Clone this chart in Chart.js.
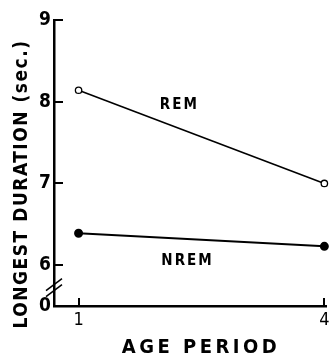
<!DOCTYPE html>
<html lang="en">
<head>
    <meta charset="UTF-8">
    <title>Longest duration by age period</title>
    <style>
        html, body { margin: 0; padding: 0; background: #fff; }
        #wrap { width: 332px; height: 360px; }
    </style>
</head>
<body>
    <div id="wrap">
        <canvas id="durationChart" width="332" height="360"></canvas>
    </div>

    <script src="https://cdn.jsdelivr.net/npm/chart.js"></script>
    <script>
        // Data
        const agePeriods = [1, 4];
        const remValues = [8.14, 7.0];
        const nremValues = [6.39, 6.23];
        const yTickValues = [5.5, 6, 7, 8, 9];      // 5.5 is the broken-axis "0"
        const yTickLabels = ['0', '6', '7', '8', '9'];
        const xTickLabels = ['1', '4'];

        const FONT = "'DejaVu Sans Condensed', 'DejaVu Sans', sans-serif";

        // Series labels sit next to the lines (in data units)
        const seriesLabels = [
            { text: 'REM', x: 2.23, y: 7.96 },
            { text: 'NREM', x: 2.33, y: 6.05 }
        ];

        const toPoints = vals => agePeriods.map((p, i) => ({ x: p, y: vals[i] }));

        // Inward tick marks, axis break, titles and line labels
        const decorations = {
            id: 'decorations',
            afterDraw(chart) {
                const { ctx, chartArea: area, scales: { x, y } } = chart;
                ctx.save();
                ctx.strokeStyle = '#000';
                ctx.lineWidth = 2;

                // y ticks pointing into the plot
                yTickValues.slice(1).forEach(v => {
                    const py = Math.round(y.getPixelForValue(v));
                    ctx.beginPath();
                    ctx.moveTo(area.left - 1, py);
                    ctx.lineTo(area.left + 9, py);
                    ctx.stroke();
                });
                // x ticks pointing up
                agePeriods.forEach(v => {
                    const px = Math.round(x.getPixelForValue(v));
                    ctx.beginPath();
                    ctx.moveTo(px, area.bottom + 1);
                    ctx.lineTo(px, area.bottom - 8);
                    ctx.stroke();
                });

                // break marks on the y axis
                const by = (y.getPixelForValue(6) + area.bottom) / 2 + 2;
                ctx.lineWidth = 1.5;
                [-3, 3].forEach(d => {
                    ctx.beginPath();
                    ctx.moveTo(area.left - 8, by + 6 + d);
                    ctx.lineTo(area.left + 8, by - 6 + d);
                    ctx.stroke();
                });

                ctx.fillStyle = '#000';
                ctx.textAlign = 'center';
                ctx.textBaseline = 'middle';

                // line labels
                ctx.font = 'bold 15px ' + FONT;
                ctx.letterSpacing = '2px';
                seriesLabels.forEach(l => {
                    ctx.fillText(l.text, x.getPixelForValue(l.x), y.getPixelForValue(l.y));
                });

                // x title
                ctx.font = 'bold 20px ' + FONT;
                ctx.letterSpacing = '3.5px';
                ctx.fillText('AGE PERIOD', 201, 348);

                // y title
                ctx.font = 'bold 19px ' + FONT;
                ctx.letterSpacing = '1.5px';
                ctx.translate(22, 184);
                ctx.rotate(-Math.PI / 2);
                ctx.fillText('LONGEST DURATION (sec.)', 0, 0);
                ctx.restore();
            }
        };

        new Chart(document.getElementById('durationChart'), {
            type: 'line',
            data: {
                datasets: [
                    {
                        label: 'REM',
                        data: toPoints(remValues),
                        borderColor: '#000',
                        borderWidth: 1.6,
                        backgroundColor: '#fff',
                        pointBorderColor: '#000',
                        pointBorderWidth: 1.3,
                        pointRadius: 3.2,
                        tension: 0
                    },
                    {
                        label: 'NREM',
                        data: toPoints(nremValues),
                        borderColor: '#000',
                        borderWidth: 2,
                        backgroundColor: '#000',
                        pointBorderColor: '#000',
                        pointRadius: 3.5,
                        tension: 0
                    }
                ]
            },
            options: {
                responsive: false,
                animation: false,
                clip: false,
                layout: { padding: { top: 20, right: 2, left: 0, bottom: 0 } },
                plugins: {
                    legend: { display: false },
                    tooltip: { enabled: false }
                },
                scales: {
                    x: {
                        type: 'linear',
                        min: 0.7,
                        max: 4.02,
                        afterBuildTicks: s => { s.ticks = agePeriods.map(v => ({ value: v })); },
                        afterFit: s => { s.height = 54; s.paddingRight = 0; s.paddingLeft = 0; },
                        ticks: {
                            padding: 4,
                            color: '#000',
                            font: { family: FONT, size: 18 },
                            callback: (v) => xTickLabels[agePeriods.indexOf(v)]
                        },
                        grid: { drawOnChartArea: false, drawTicks: false },
                        border: { color: '#000', width: 2.5 }
                    },
                    y: {
                        type: 'linear',
                        min: 5.5,
                        max: 9,
                        afterBuildTicks: s => { s.ticks = yTickValues.map(v => ({ value: v })); },
                        afterFit: s => { s.width = 54; },
                        ticks: {
                            padding: 3,
                            color: '#000',
                            font: { family: FONT, size: 19, weight: 'bold' },
                            callback: (v) => yTickLabels[yTickValues.indexOf(v)]
                        },
                        grid: { drawOnChartArea: false, drawTicks: false },
                        border: { color: '#000', width: 2.5 }
                    }
                }
            },
            plugins: [decorations]
        });
    </script>
</body>
</html>
